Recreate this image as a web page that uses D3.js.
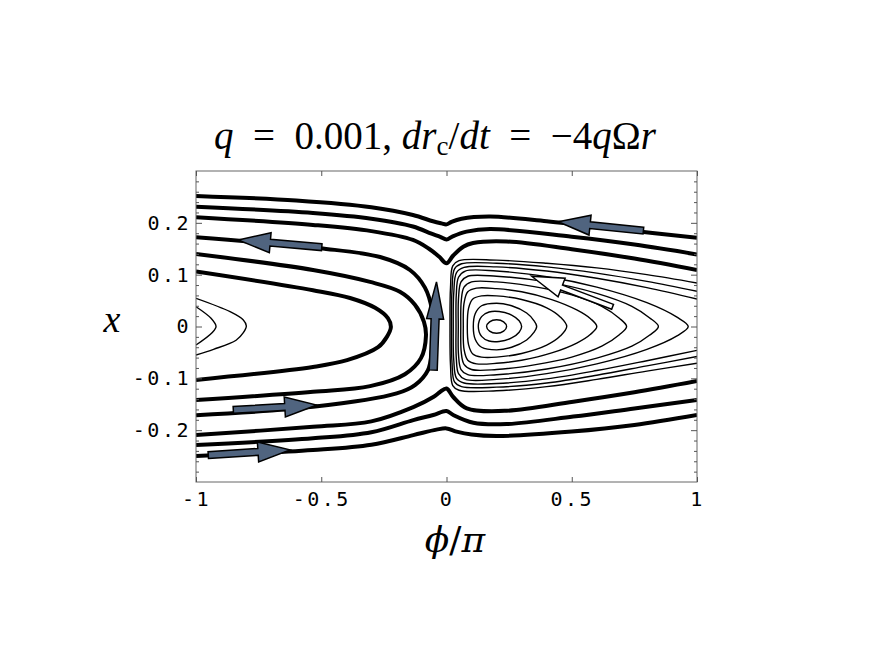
<!DOCTYPE html>
<html>
<head>
<meta charset="utf-8">
<script src="https://cdn.jsdelivr.net/npm/d3@7"></script>
<style>
  body { margin: 0; background: #fff; }
</style>
</head>
<body>
<script>
// ---- data (phi/pi, x) ----
var phiTicks = [-1, -0.5, 0, 0.5, 1];
var xTicks = [-0.2, -0.1, 0, 0.1, 0.2];
var xMinorTicks = [-0.28, -0.26, -0.24, -0.22, -0.18, -0.16, -0.14, -0.12, -0.08, -0.06, -0.04, -0.02,
                   0.02, 0.04, 0.06, 0.08, 0.12, 0.14, 0.16, 0.18, 0.22, 0.24, 0.26, 0.28];

// thick streamlines above the island
var topLine1 = [[-1, 0.252], [-0.6, 0.243], [-0.3, 0.230], [-0.134, 0.215], [-0.054, 0.203], [-0.02, 0.199],
                [0, 0.197], [0.02, 0.202], [0.06, 0.208], [0.174, 0.212], [0.4, 0.203], [0.7, 0.187], [1, 0.171]];
var topLine2 = [[-1, 0.231], [-0.533, 0.219], [-0.3, 0.208], [-0.134, 0.193], [-0.06, 0.179], [-0.025, 0.173],
                [0, 0.168], [0.025, 0.174], [0.08, 0.183], [0.174, 0.188], [0.5, 0.173], [0.75, 0.158], [1, 0.139]];
var topLine3 = [[-1, 0.211], [-0.533, 0.196], [-0.3, 0.184], [-0.134, 0.167], [-0.07, 0.150], [-0.03, 0.135],
                [0, 0.122], [0.027, 0.137], [0.067, 0.154], [0.106, 0.161], [0.24, 0.164], [0.5, 0.149], [0.75, 0.131], [1, 0.109]];

// thick C-shaped streamlines on the left
var cLine4 = [[-1, 0.172], [-0.505, 0.151], [-0.265, 0.134], [-0.146, 0.109], [-0.086, 0.075], [-0.058, 0.032],
              [-0.054, -0.007], [-0.058, -0.045], [-0.074, -0.084], [-0.126, -0.113], [-0.199, -0.129], [-0.533, -0.155], [-1, -0.171]];
var cLine5 = [[-1, 0.140], [-0.533, 0.109], [-0.305, 0.086], [-0.186, 0.067], [-0.126, 0.042], [-0.090, 0.009],
              [-0.082, -0.018], [-0.102, -0.061], [-0.166, -0.092], [-0.305, -0.115], [-0.533, -0.126], [-1, -0.142]];
var cLine6 = [[-1, 0.106], [-0.533, 0.070], [-0.385, 0.055], [-0.285, 0.036], [-0.234, 0.016], [-0.222, -0.001],
              [-0.238, -0.020], [-0.273, -0.040], [-0.397, -0.065], [-0.533, -0.078], [-1, -0.103]];

// thick streamlines below the island
var botLineD = [[-1, -0.2095], [-0.533, -0.1934], [-0.3, -0.183], [-0.1325, -0.1554], [-0.0527, -0.1361], [-0.026, -0.1264],
                [0, -0.1196], [0.027, -0.136], [0.081, -0.158], [0.24, -0.1626], [0.506, -0.1451], [0.75, -0.127], [1, -0.1052]];
var botLineE = [[-1, -0.2288], [-0.533, -0.2158], [-0.3, -0.204], [-0.1325, -0.1805], [-0.0527, -0.1708], [0, -0.1631],
                [0.027, -0.1708], [0.107, -0.1857], [0.24, -0.1882], [0.506, -0.1737], [0.75, -0.158], [1, -0.1419]];
var botLineF = [[-1, -0.25], [-0.533, -0.2384], [-0.3, -0.228], [-0.1325, -0.2095], [-0.04, -0.199], [0, -0.1966],
                [0.04, -0.2027], [0.1, -0.2085], [0.2, -0.2114], [0.5, -0.2027], [0.75, -0.19], [1, -0.1708]];

// thin curves of the small island at phi = -1
var leftOuter = [[-1, 0.0544], [-0.864, 0.0286], [-0.811, 0.0126], [-0.799, 0.001], [-0.811, -0.012], [-0.84, -0.0265], [-0.93, -0.044], [-1, -0.055]];
var leftInner = [[-1, 0.0381], [-0.94, 0.0158], [-0.92, 0.0], [-0.936, -0.012], [-1, -0.0357]];

// thin closed curves of the main island
var ring0 = [[0.16, 0], [0.172, 0.009], [0.2, 0.013], [0.228, 0.009], [0.24, 0], [0.228, -0.009], [0.2, -0.013], [0.172, -0.009]];
var ring1 = [[0.127, 0], [0.14, 0.019], [0.17, 0.028], [0.21, 0.029], [0.26, 0.022], [0.29, 0.011], [0.300, 0],
             [0.29, -0.011], [0.26, -0.022], [0.21, -0.029], [0.17, -0.028], [0.14, -0.019]];
var ring2 = [[0.107, 0], [0.115, 0.025], [0.14, 0.040], [0.2, 0.045], [0.26, 0.040], [0.32, 0.026], [0.348, 0.012], [0.36, 0],
             [0.348, -0.012], [0.32, -0.026], [0.26, -0.040], [0.2, -0.045], [0.14, -0.040], [0.115, -0.025]];
var ring3 = [[0.083, 0], [0.088, 0.035], [0.105, 0.053], [0.14, 0.059], [0.2, 0.059], [0.3, 0.052], [0.4, 0.036], [0.455, 0.018], [0.48, 0],
             [0.455, -0.018], [0.4, -0.036], [0.3, -0.052], [0.2, -0.059], [0.14, -0.059], [0.105, -0.053], [0.088, -0.035]];
var ring4 = [[0.067, 0], [0.070, 0.045], [0.085, 0.067], [0.12, 0.074], [0.2, 0.073], [0.3, 0.067], [0.42, 0.052], [0.52, 0.032], [0.575, 0.015], [0.6, 0],
             [0.575, -0.015], [0.52, -0.032], [0.42, -0.051], [0.3, -0.065], [0.2, -0.071], [0.12, -0.072], [0.085, -0.065], [0.070, -0.044]];
var ring5 = [[0.057, 0], [0.059, 0.05], [0.07, 0.076], [0.1, 0.086], [0.2, 0.086], [0.35, 0.077], [0.5, 0.061], [0.62, 0.039], [0.69, 0.016], [0.719, 0],
             [0.69, -0.016], [0.62, -0.038], [0.5, -0.059], [0.35, -0.074], [0.2, -0.083], [0.1, -0.083], [0.07, -0.073], [0.059, -0.05]];
var ring6 = [[0.047, 0], [0.048, 0.055], [0.058, 0.086], [0.085, 0.097], [0.2, 0.097], [0.4, 0.086], [0.6, 0.064], [0.74, 0.039], [0.81, 0.017], [0.846, 0],
             [0.81, -0.017], [0.74, -0.038], [0.6, -0.061], [0.4, -0.082], [0.2, -0.093], [0.085, -0.093], [0.058, -0.083], [0.048, -0.055]];
var ring7 = [[0.038, 0], [0.039, 0.06], [0.048, 0.095], [0.075, 0.107], [0.2, 0.107], [0.4, 0.096], [0.6, 0.076], [0.8, 0.046], [0.92, 0.018], [0.965, 0],
             [0.92, -0.018], [0.8, -0.044], [0.6, -0.072], [0.4, -0.091], [0.2, -0.102], [0.075, -0.102], [0.048, -0.091], [0.039, -0.06]];

// thin open curves of the main island (leave through the right edge)
var open1 = [[1, 0.053], [0.8, 0.075], [0.6, 0.093], [0.4, 0.107], [0.2, 0.115], [0.07, 0.114], [0.04, 0.104], [0.029, 0.065], [0.027, 0],
             [0.029, -0.065], [0.04, -0.1], [0.07, -0.109], [0.2, -0.110], [0.4, -0.101], [0.6, -0.085], [0.8, -0.066], [1, -0.046]];
var open2 = [[1, 0.068], [0.8, 0.087], [0.6, 0.103], [0.4, 0.115], [0.2, 0.122], [0.06, 0.121], [0.032, 0.111], [0.022, 0.07], [0.020, 0],
             [0.022, -0.07], [0.032, -0.107], [0.06, -0.116], [0.2, -0.117], [0.4, -0.109], [0.6, -0.094], [0.8, -0.076], [1, -0.058]];
var open3 = [[1, 0.084], [0.8, 0.100], [0.6, 0.113], [0.4, 0.122], [0.2, 0.128], [0.05, 0.127], [0.025, 0.117], [0.016, 0.075], [0.014, 0],
             [0.016, -0.075], [0.025, -0.114], [0.05, -0.123], [0.2, -0.124], [0.4, -0.116], [0.6, -0.102], [0.8, -0.086], [1, -0.071]];

// arrows: tail -> tip
var arrowTails = [[0.786, 0.185], [-0.498, 0.153], [-0.053, -0.084], [-0.851, -0.161], [-0.951, -0.248], [0.663, 0.038]];
var arrowTips  = [[0.446, 0.202], [-0.831, 0.167], [-0.040, 0.086], [-0.518, -0.1515], [-0.625, -0.238], [0.340, 0.097]];
var arrowHollow = [false, false, false, false, false, true];

var thickLines = [topLine1, topLine2, topLine3, cLine4, cLine5, cLine6, botLineD, botLineE, botLineF];
var thinOpen = [leftOuter, leftInner, open1, open2, open3];
var thinClosed = [ring0, ring1, ring2, ring3, ring4, ring5, ring6, ring7];

// ---- drawing ----
var width = 871, height = 654;
var pLeft = 196, pRight = 697, pTop = 171, pBottom = 482;

var svg = d3.select("body").append("svg")
    .attr("width", width)
    .attr("height", height)
    .style("background", "#fff");

var x = d3.scaleLinear().domain([-1, 1]).range([pLeft, pRight]);
var y = d3.scaleLinear().domain([-0.3, 0.3]).range([pBottom, pTop]);

svg.append("clipPath").attr("id", "plot")
  .append("rect")
    .attr("x", pLeft).attr("y", pTop)
    .attr("width", pRight - pLeft).attr("height", pBottom - pTop);

var plot = svg.append("g").attr("clip-path", "url(#plot)");

var line = d3.line()
    .x(function(d){ return x(d[0]); })
    .y(function(d){ return y(d[1]); })
    .curve(d3.curveCatmullRom.alpha(0.5));

var ring = d3.line()
    .x(function(d){ return x(d[0]); })
    .y(function(d){ return y(d[1]); })
    .curve(d3.curveCatmullRomClosed.alpha(0.5));

plot.selectAll(".thin-open").data(thinOpen).enter().append("path")
    .attr("d", line).attr("fill", "none").attr("stroke", "#000").attr("stroke-width", 1.4);

plot.selectAll(".thin-ring").data(thinClosed).enter().append("path")
    .attr("d", ring).attr("fill", "none").attr("stroke", "#000").attr("stroke-width", 1.4);

plot.selectAll(".thick").data(thickLines).enter().append("path")
    .attr("d", line).attr("fill", "none").attr("stroke", "#000").attr("stroke-width", 4)
    .attr("stroke-linejoin", "round");

// arrows
function arrowShape(tail, tip, shaft, head, headLen){
    var x0 = x(tail[0]), y0 = y(tail[1]), x1 = x(tip[0]), y1 = y(tip[1]);
    var dx = x1 - x0, dy = y1 - y0, L = Math.hypot(dx, dy);
    var ux = dx / L, uy = dy / L, nx = -uy, ny = ux;
    var bx = x1 - ux * headLen, by = y1 - uy * headLen;
    return [
        [x0 + nx * shaft, y0 + ny * shaft],
        [bx + nx * shaft, by + ny * shaft],
        [bx + nx * head, by + ny * head],
        [x1, y1],
        [bx - nx * head, by - ny * head],
        [bx - nx * shaft, by - ny * shaft],
        [x0 - nx * shaft, y0 - ny * shaft]
    ].map(function(p){ return p.join(","); }).join(" ");
}

arrowTails.forEach(function(t, i){
    var hollow = arrowHollow[i];
    var vertical = i === 2;
    svg.append("polygon")
        .attr("points", arrowShape(t, arrowTips[i], hollow ? 2.6 : (vertical ? 4 : 3.4), vertical ? 8.5 : 10, vertical ? 37 : 32))
        .attr("fill", hollow ? "#fff" : "#50647f")
        .attr("stroke", "#000")
        .attr("stroke-width", 1.5)
        .attr("stroke-linejoin", "miter");
});

// frame
svg.append("rect")
    .attr("x", pLeft).attr("y", pTop)
    .attr("width", pRight - pLeft).attr("height", pBottom - pTop)
    .attr("fill", "none").attr("stroke", "#666").attr("stroke-width", 1);

var fmt = function(d){ return d === 0 ? "0" : String(d); };

svg.append("g")
    .attr("transform", "translate(0," + pBottom + ")")
    .call(d3.axisBottom(x).tickValues(phiTicks).tickSize(-5).tickPadding(10).tickFormat(fmt));
svg.append("g")
    .attr("transform", "translate(0," + pTop + ")")
    .call(d3.axisTop(x).tickValues(phiTicks).tickSize(-5).tickFormat(""));

svg.append("g")
    .attr("transform", "translate(" + pLeft + ",0)")
    .call(d3.axisLeft(y).tickValues(xTicks).tickSize(-6).tickPadding(5).tickFormat(fmt));
svg.append("g")
    .attr("transform", "translate(" + pLeft + ",0)")
    .call(d3.axisLeft(y).tickValues(xMinorTicks).tickSize(-3).tickFormat(""));
svg.append("g")
    .attr("transform", "translate(" + pRight + ",0)")
    .call(d3.axisRight(y).tickValues(xTicks).tickSize(-6).tickFormat(""));
svg.append("g")
    .attr("transform", "translate(" + pRight + ",0)")
    .call(d3.axisRight(y).tickValues(xMinorTicks).tickSize(-3).tickFormat(""));

svg.selectAll(".domain").remove();
svg.selectAll(".tick line").attr("stroke", "#555");
svg.selectAll(".tick text")
    .attr("font-family", "'DejaVu Sans Mono', monospace")
    .attr("font-size", 20)
    .attr("letter-spacing", 2.5)
    .attr("fill", "#000");

// title
var titleParts = [
    ["q", "italic"], ["\u2002=\u20020.001, ", "normal"], ["dr", "italic"], ["c", "sub"], ["/", "normal"],
    ["dt", "italic"], ["\u2002=\u2002\u22124", "normal"], ["q", "italic"], ["\u03A9", "normal"], ["r", "italic"]
];
var title = svg.append("text")
    .attr("x", 435).attr("y", 149)
    .attr("text-anchor", "middle")
    .attr("font-family", "'Liberation Serif', 'DejaVu Serif', serif")
    .attr("font-size", 39)
    .attr("fill", "#000");
titleParts.forEach(function(p, i){
    var ts = title.append("tspan").text(p[0]);
    if (p[1] === "italic") ts.attr("font-style", "italic");
    if (p[1] === "sub") ts.attr("font-size", 27).attr("dy", 6);
    if (i > 0 && titleParts[i - 1][1] === "sub") ts.attr("dy", -6);
});

// axis labels
svg.append("text")
    .attr("x", 112).attr("y", 332)
    .attr("text-anchor", "middle")
    .attr("font-family", "'Liberation Serif', 'DejaVu Serif', serif")
    .attr("font-style", "italic")
    .attr("font-size", 38)
    .text("x");

svg.append("text")
    .attr("x", 455).attr("y", 552)
    .attr("text-anchor", "middle")
    .attr("font-family", "'DejaVu Serif', serif")
    .attr("font-size", 36)
    .html("<tspan font-style='italic'>\u03D5</tspan>/<tspan font-style='italic'>\u03C0</tspan>");
</script>
</body>
</html>
